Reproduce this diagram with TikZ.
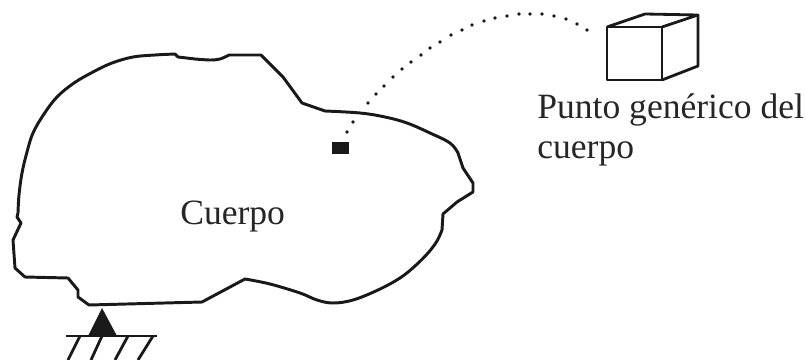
\documentclass[tikz,border=0pt]{standalone}
\usepackage{fontspec}
\setmainfont{Liberation Serif}
\tikzset{
  contour/.style={line width=2.1pt, line join=round, black!90},
  caja/.style={line width=2pt, line join=round, black!90},
  rotulo/.style={inner sep=0pt, anchor=base west, font=\fontsize{25.3}{30}\selectfont, black!85}
}
\begin{document}
\begin{tikzpicture}[x=0.025cm,y=-0.025cm]
  \useasboundingbox (0,0) rectangle (806,360);
  % contorno del cuerpo
  \draw [contour] plot [smooth, tension=0.6] coordinates {(18,213) (19,195) (22,173) (27,152) (33,133) (44,114) (57,97) (74,83) (93,72) (112,63) (133,57) (155,55) (175,54)}
    --(178,57)-- plot [smooth, tension=0.6] coordinates {(195,59) (210,60) (220,59) (229,55)}
    --(261,55)--(283,77)--(302,103)
    -- plot [smooth, tension=0.6] coordinates {(325,111) (360,113) (385,117) (407,123) (430,133) (450,143) (458,153)}
    --(463,168)--(473,183)--(473,192)--(457,202)--(443,214)
    -- plot [smooth, tension=0.6] coordinates {(442,230) (437,241) (428,253) (415,266) (400,278) (378,290) (353,300) (333,303) (317,300) (300,293) (270,284) (245,279)}
    --(202,302)--(89,305)--(78,297)--(78,290)--(68,278)--(25,277)--(15,268)--(13,240)--(21,223)--(17,217)--cycle;
  % apoyo
  \fill [black!90] (102,308)--(88,336)--(117,336)--cycle;
  \draw [caja] (66,336)--(157,336);
  \foreach \xa/\xb in {80/68,102/91,128/115,153/138}
    \draw [caja] (\xa,336)--(\xb,360);
  % punto y trayectoria
  \fill [black!90] (332,142) rectangle (349,154);
  \foreach \px/\py in {347/132,353/122,368/103,376/94,384/86,393/77,402/69,411/62,421/55,430/48,440/42,451/35,462/30,472/25,484/21,495/18,507/16,519/14,530/14,542/14,554/16,566/19,577/24,587/30}
    \fill [black!90] (\px,\py) circle (1.4pt);
  % cubo
  \draw [caja] (607,27) rectangle (662,80);
  \draw [caja] (607,27)--(645,14)--(698,15)--(662,27);
  \draw [caja] (698,15)--(698,66)--(662,80);
  % textos
  \node [rotulo] (cuerpo) at (180,224) {Cuerpo};
  \node [rotulo] (punto) at (537,118) {Punto genérico del};
  \node [rotulo] (resto) at (537,158) {cuerpo};
\end{tikzpicture}
\end{document}
